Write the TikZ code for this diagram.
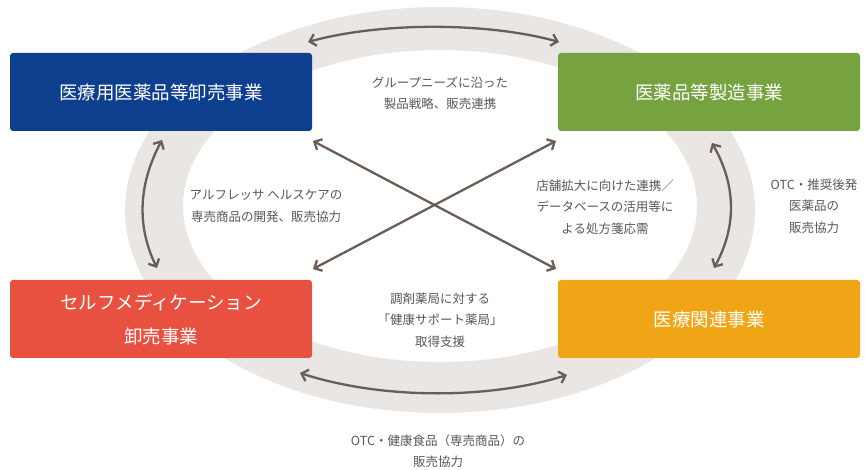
\documentclass[tikz,border=0pt]{standalone}
\usepackage{fontspec}
\newfontfamily\jp{Noto Sans CJK JP}
\usetikzlibrary{arrows.meta}
\definecolor{ringc}{HTML}{E9E6E4}
\definecolor{arrc}{HTML}{6B5D57}
\definecolor{bluec}{HTML}{0E3F8E}
\definecolor{greenc}{HTML}{76A23F}
\definecolor{redc}{HTML}{E8513F}
\definecolor{orangec}{HTML}{EFA515}
\definecolor{txtc}{HTML}{595757}
\begin{document}
\begin{tikzpicture}[x=1pt,y=-1pt,
  biz/.style={rounded corners=3pt, minimum width=302pt, minimum height=78pt, text=white,
    font=\jp\fontsize{18.5}{34}\selectfont, align=center, inner sep=0pt},
  lbl/.style={text=txtc, font=\jp\fontsize{12.5}{21.5}\selectfont, align=center, inner sep=0pt},
  rel/.style={draw=arrc, line width=2.3pt,
    {Straight Barb[length=6pt,width=12pt]}-{Straight Barb[length=6pt,width=12pt]}}
]
\useasboundingbox (0,0) rectangle (865,470);
% ring
\fill[ringc, even odd rule] (440,210) ellipse [x radius=315pt, y radius=203pt]
  (440,206) ellipse [x radius=257pt, y radius=156pt];

% boxes
\node[biz, fill=bluec]   (wh)  at (161,92)  {医療用医薬品等卸売事業};
\node[biz, fill=greenc]  (mf)  at (709,92)  {医薬品等製造事業};
\node[biz, fill=redc]    (sm)  at (161,319) {セルフメディケーション\\卸売事業};
\node[biz, fill=orangec] (med) at (709,319) {医療関連事業};

% arrow end points
\coordinate (t1) at (308,42);
\coordinate (t2) at (559,42);
\coordinate (b1) at (300,373);
\coordinate (b2) at (567,375);
\coordinate (l1) at (162,140);
\coordinate (l2) at (157,268);
\coordinate (r1) at (712,143);
\coordinate (r2) at (714,268);
\coordinate (x1) at (313,141);
\coordinate (x2) at (556,269);
\coordinate (x3) at (556,141);
\coordinate (x4) at (313,269);

% connectors
\draw[rel] (t1) .. controls (380,22) and (487,22) .. (t2);
\draw[rel] (b1) .. controls (380,399) and (487,400) .. (b2);
\draw[rel] (l1) .. controls (139,183) and (136,225) .. (l2);
\draw[rel] (r1) .. controls (736,185) and (737,226) .. (r2);
\draw[rel] (x1) -- (x2);
\draw[rel] (x3) -- (x4);

% labels
\node[lbl] (L1) at (440,93)  {グループニーズに沿った\\製品戦略、販売連携};
\node[lbl] (L2) at (266,206) {アルフレッサ ヘルスケアの\\専売商品の開発、販売協力};
\node[lbl] (L3) at (605,207) {店舗拡大に向けた連携／\\データベースの活用等に\\よる処方箋応需};
\node[lbl] (L4) at (814,206) {OTC・推奨後発\\医薬品の\\販売協力};
\node[lbl] (L5) at (440,320) {調剤薬局に対する\\「健康サポート薬局」\\取得支援};
\node[lbl] (L6) at (438,451) {OTC・健康食品（専売商品）の\\販売協力};
\end{tikzpicture}
\end{document}
